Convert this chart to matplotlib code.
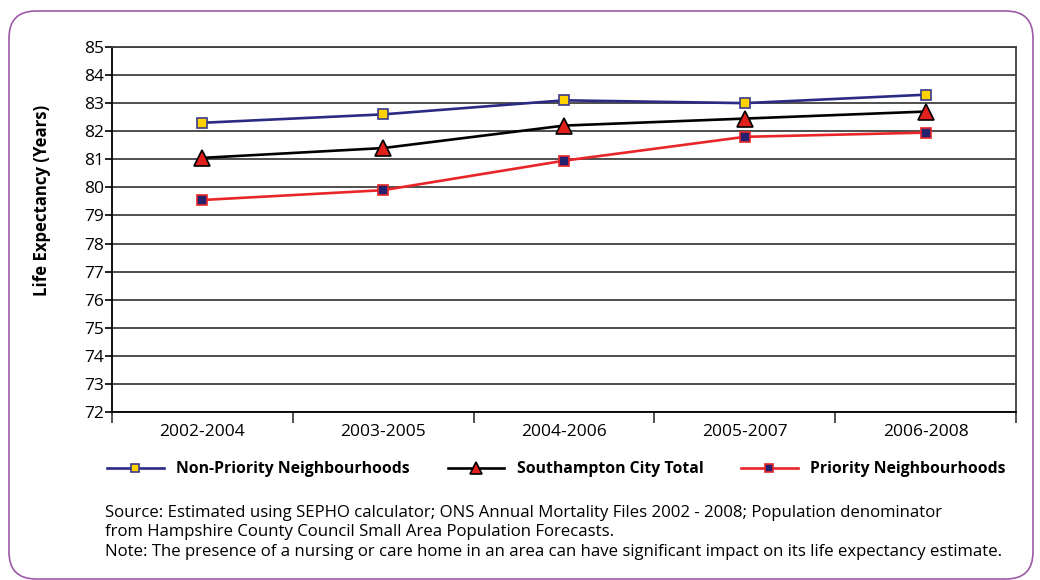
import matplotlib
matplotlib.use("Agg")
import matplotlib.pyplot as plt
from matplotlib.patches import FancyBboxPatch
import numpy as np

plt.rcParams['font.family'] = ['Open Sans', 'DejaVu Sans']

periods = ['2002-2004', '2003-2005', '2004-2006', '2005-2007', '2006-2008']
non_priority = [82.3, 82.6, 83.1, 83.0, 83.3]
city_total = [81.05, 81.4, 82.2, 82.45, 82.7]
priority = [79.55, 79.9, 80.95, 81.8, 81.95]

source_lines = [
    "Source: Estimated using SEPHO calculator; ONS Annual Mortality Files 2002 - 2008; Population denominator",
    "from Hampshire County Council Small Area Population Forecasts.",
    "Note: The presence of a nursing or care home in an area can have significant impact on its life expectancy estimate.",
]

fig = plt.figure(figsize=(10.4, 5.8), dpi=100)
ax = fig.add_axes([0.1077, 0.2897, 0.8693, 0.6293])

x = np.arange(len(periods))
ax.plot(x, non_priority, color='#2b2a84', lw=1.9, marker='s', ms=7,
        mfc='#ffd200', mec='#3a3a8c', mew=1.2, label='Non-Priority Neighbourhoods', zorder=3)
ax.plot(x, city_total, color='black', lw=1.9, marker='^', ms=11,
        mfc='#e0201b', mec='black', mew=1.2, label='Southampton City Total', zorder=3)
ax.plot(x, priority, color='#e8262a', lw=1.9, marker='s', ms=7,
        mfc='#24226e', mec='#e8262a', mew=1.2, label='Priority Neighbourhoods', zorder=3)

ax.set_xlim(-0.5, len(periods) - 0.5)
ax.set_ylim(72, 85)
ax.set_yticks(range(72, 86))
ax.grid(axis='y', color='#404040', lw=1.3)
ax.set_axisbelow(True)

ax.set_xticks(x)
ax.set_xticklabels(periods, fontsize=12.5)
ax.set_xticks(np.arange(-0.5, len(periods)), minor=True)
ax.tick_params(axis='x', which='major', length=0, pad=9)
ax.tick_params(axis='x', which='minor', length=8, width=1.2, color='#333333')
ax.tick_params(axis='y', length=5, width=1.2, labelsize=12.5, pad=1)

for side in ['left', 'bottom']:
    ax.spines[side].set_color('black')
    ax.spines[side].set_linewidth(1.3)
for side in ['right', 'top']:
    ax.spines[side].set_color('#404040')
    ax.spines[side].set_linewidth(1.3)

ax.set_ylabel('Life Expectancy (Years)', fontsize=12.1, fontweight='bold')
ax.yaxis.set_label_coords(-0.068, 0.58)

fig.legend(loc='center', bbox_to_anchor=(0.535, 0.191), ncol=3, frameon=False,
           prop={'size': 11.3, 'weight': 'bold'}, handlelength=3.6,
           columnspacing=2.4, handletextpad=0.8, markerscale=0.85)

for i, line in enumerate(source_lines):
    fig.text(0.101, 0.116 - i * 0.034, line, fontsize=12.1, va='center', ha='left')

border = FancyBboxPatch((0.09, 0.01), 10.24, 5.68,
                        boxstyle='round,pad=0,rounding_size=0.27',
                        transform=fig.dpi_scale_trans, fill=False,
                        ec='#9c5aa6', lw=1.2, zorder=10)
fig.patches.append(border)

fig.savefig('out.png', dpi=100)
